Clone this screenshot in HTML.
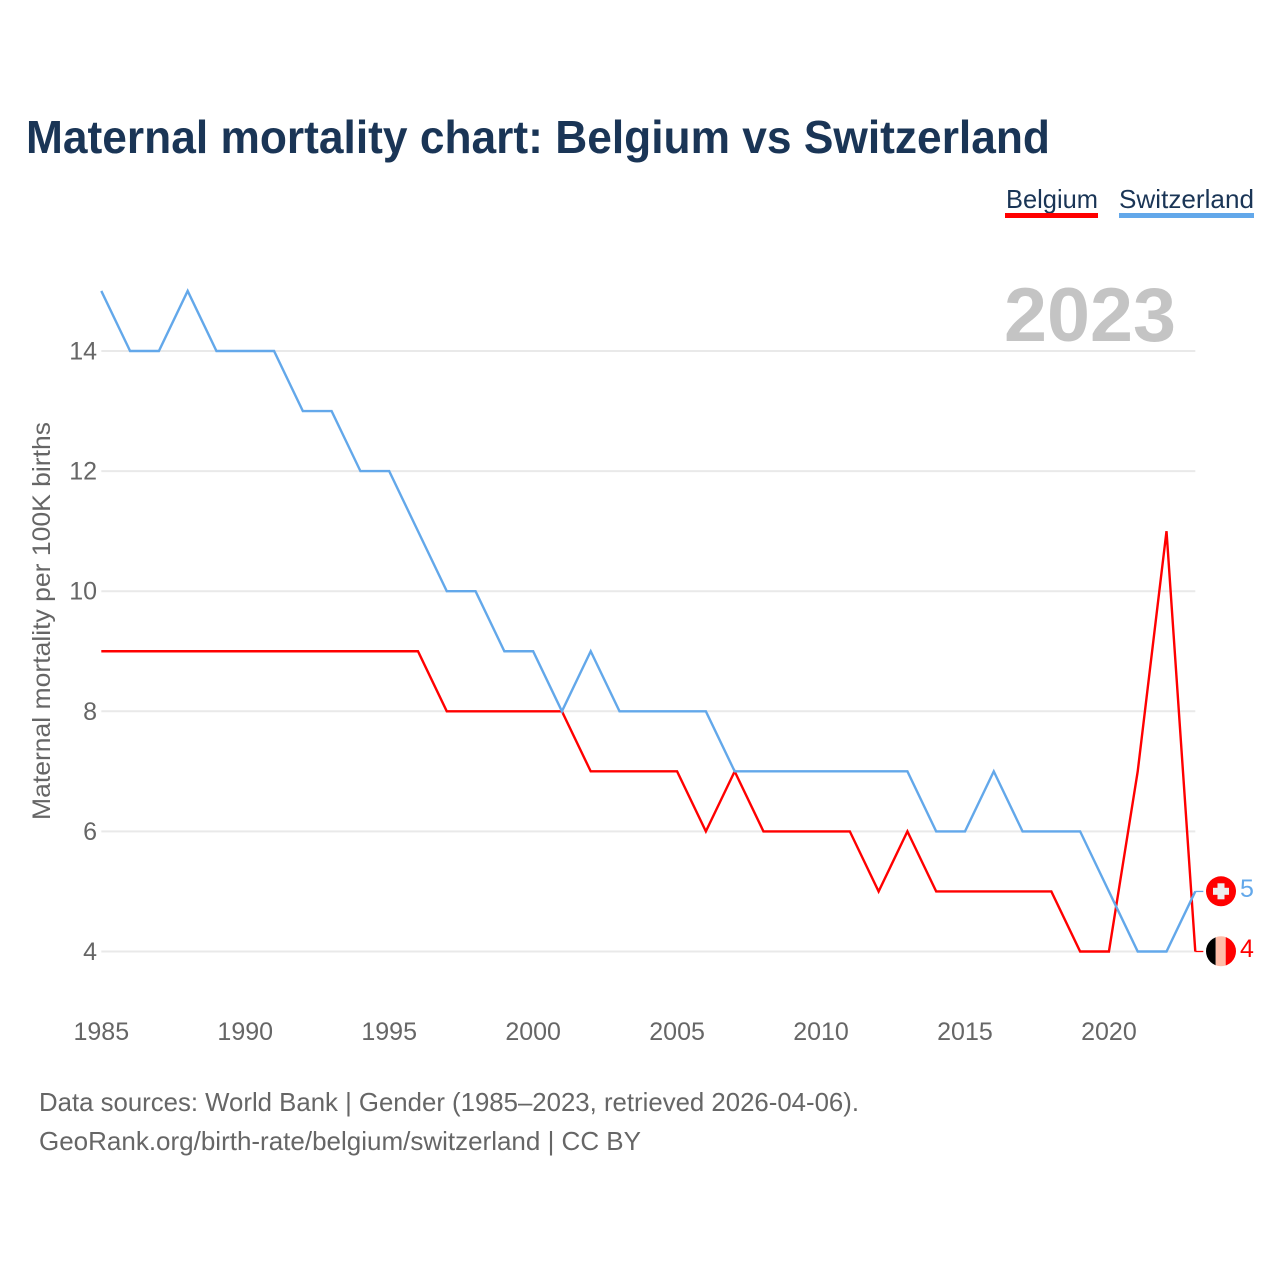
<!DOCTYPE html>
<html lang="en">
<head>
<meta charset="utf-8">
<title>Maternal mortality chart: Belgium vs Switzerland</title>
<style>
html,body{margin:0;padding:0;background:#fff;}
svg{display:block;font-family:"Liberation Sans",sans-serif;}
</style>
</head>
<body>
<svg id="chart" width="1280" height="1280" viewBox="0 0 1280 1280" xmlns="http://www.w3.org/2000/svg">
  <rect width="1280" height="1280" fill="#ffffff"/>
  <text x="26" y="153" font-size="46" font-weight="700" fill="#1a3556" textLength="1024" lengthAdjust="spacingAndGlyphs">Maternal mortality chart: Belgium vs Switzerland</text>

  <g id="grid"></g>
  <g id="yticks"></g>
  <g id="xticks"></g>

  <text x="1176" y="341" text-anchor="end" font-size="76" font-weight="700" fill="#c4c4c4" textLength="172" lengthAdjust="spacingAndGlyphs">2023</text>

  <text transform="translate(50,621) rotate(-90)" text-anchor="middle" font-size="25" fill="#666666" textLength="398" lengthAdjust="spacingAndGlyphs">Maternal mortality per 100K births</text>

  <g id="series"></g>

  <g>
    <text x="1006" y="208" font-size="26" fill="#1a3556" textLength="92" lengthAdjust="spacingAndGlyphs">Belgium</text>
    <rect x="1005" y="213" width="93" height="5" fill="#ff0000"/>
  </g>
  <g>
    <text x="1119" y="208" font-size="26" fill="#1a3556" textLength="135" lengthAdjust="spacingAndGlyphs">Switzerland</text>
    <rect x="1119" y="213" width="135" height="5" fill="#63a8ea"/>
  </g>

  <defs>
    <clipPath id="flag-be-clip"><circle cx="1221" cy="951.3" r="15"/></clipPath>
  </defs>
  <g id="flag-ch">
    <circle cx="1221" cy="891.3" r="15" fill="#ff0000"/>
    <rect x="1213" y="887.8" width="16" height="7" fill="#eeeeee"/>
    <rect x="1217.5" y="883.3" width="7" height="16" fill="#eeeeee"/>
  </g>
  <g id="flag-be" clip-path="url(#flag-be-clip)">
    <rect x="1205" y="935" width="10.7" height="33" fill="#000000"/>
    <rect x="1215.7" y="935" width="10" height="33" fill="#ffbda8"/>
    <rect x="1225.7" y="935" width="11" height="33" fill="#ff0000"/>
  </g>
  <text id="end-ch" x="1240" y="897" font-size="25" fill="#63a8ea"></text>
  <text id="end-be" x="1240" y="957" font-size="25" fill="#ff0000"></text>

  <text x="39" y="1111" font-size="26" fill="#666666" textLength="820" lengthAdjust="spacingAndGlyphs">Data sources: World Bank | Gender (1985–2023, retrieved 2026-04-06).</text>
  <text x="39" y="1150" font-size="26" fill="#666666" textLength="602" lengthAdjust="spacingAndGlyphs">GeoRank.org/birth-rate/belgium/switzerland | CC BY</text>
</svg>
<script>
var firstYear = 1985;
var belgiumValues = [9,9,9,9,9,9,9,9,9,9,9,9,8,8,8,8,8,7,7,7,7,6,7,6,6,6,6,5,6,5,5,5,5,5,4,4,7,11,4];
var switzerlandValues = [15,14,14,15,14,14,14,13,13,12,12,11,10,10,9,9,8,9,8,8,8,8,7,7,7,7,7,7,7,6,6,7,6,6,6,5,4,4,5];
var yTickLabels = [4,6,8,10,12,14];
var xTickLabels = [1985,1990,1995,2000,2005,2010,2015,2020];

var SVG_NS = 'http://www.w3.org/2000/svg';
function xScale(year){ return 101.3 + (year - 1985) * (1195.3 - 101.3) / 38; }
function yScale(v){ return 951.5 - (v - 4) * (951.5 - 351) / 10; }
function make(tag, attrs, parent){
  var el = document.createElementNS(SVG_NS, tag);
  for (var k in attrs) el.setAttribute(k, attrs[k]);
  parent.appendChild(el);
  return el;
}
var gridGroup = document.getElementById('grid');
var yGroup = document.getElementById('yticks');
var xGroup = document.getElementById('xticks');
var seriesGroup = document.getElementById('series');

yTickLabels.forEach(function(t){
  var line = make('line', {x1:101.3, x2:1195.3, y1:yScale(t), y2:yScale(t), stroke:'#e9e9e9', 'stroke-width':2}, gridGroup);
  
  
  var label = make('text', {x:97, y:yScale(t)+8.5, 'text-anchor':'end', 'font-size':25, fill:'#666666'}, yGroup);
  
  
  label.textContent = t;
});
xTickLabels.forEach(function(t){
  var label = make('text', {x:xScale(t), y:1040, 'text-anchor':'middle', 'font-size':25, fill:'#666666'}, xGroup);
  
  
  label.textContent = t;
});
function drawSeries(values, color, name){
  var pts = values.map(function(v,i){ return xScale(firstYear+i).toFixed(2)+','+yScale(v).toFixed(2); });
  var line = make('polyline', {points:pts.join(' '), fill:'none', stroke:color, 'stroke-width':2.4, 'stroke-linejoin':'miter'}, seriesGroup);
  
  
  var last = values[values.length-1];
  var endX = xScale(firstYear+values.length-1);
  var lead = make('line', {x1:endX, x2:endX+8, y1:yScale(last), y2:yScale(last), stroke:color, 'stroke-width':1.3}, seriesGroup);
  
  
}
drawSeries(belgiumValues, '#ff0000', 'line-belgium');
drawSeries(switzerlandValues, '#63a8ea', 'line-switzerland');
document.getElementById('end-ch').textContent = switzerlandValues[switzerlandValues.length-1];
document.getElementById('end-be').textContent = belgiumValues[belgiumValues.length-1];
</script>
</body>
</html>
